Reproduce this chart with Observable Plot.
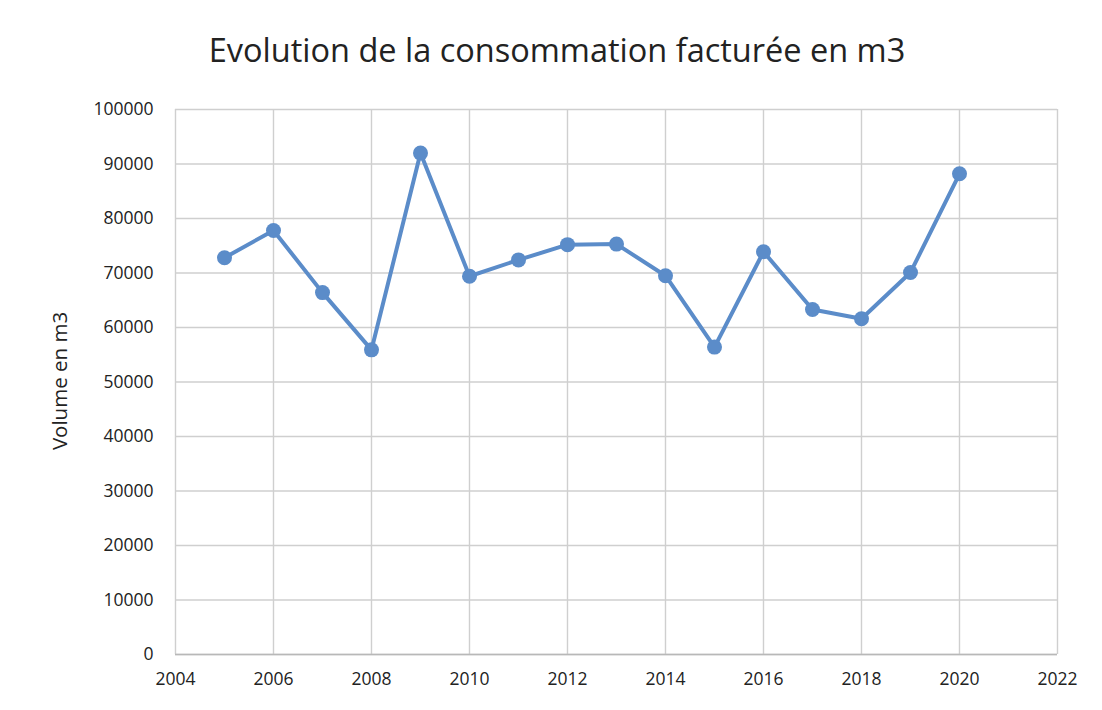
<!DOCTYPE html>
<html>
<head>
<meta charset="utf-8">
<script src="https://cdn.jsdelivr.net/npm/d3@7"></script>
<script src="https://cdn.jsdelivr.net/npm/@observablehq/plot@0.6"></script>
<style>
  body { margin: 0; background: #fff; font-family: "Open Sans", "Liberation Sans", sans-serif; }
  #wrap { width: 1102px; height: 710px; position: relative; overflow: hidden; }
  #title { height: 90px; line-height: 100px; text-align: center; font-size: 32.5px; color: #222; padding-left: 12px; }
</style>
</head>
<body>
<div id="wrap">
  <div id="title">Evolution de la consommation facturée en m3</div>
  <div id="chart"></div>
</div>
<script>
const years = [2005, 2006, 2007, 2008, 2009, 2010, 2011, 2012, 2013, 2014, 2015, 2016, 2017, 2018, 2019, 2020];
const volumes = [72800, 77800, 66400, 55900, 92000, 69400, 72400, 75200, 75300, 69500, 56400, 73900, 63300, 61600, 70100, 88200];
const xTicks = [2004, 2006, 2008, 2010, 2012, 2014, 2016, 2018, 2020, 2022];
const yTicks = [0, 10000, 20000, 30000, 40000, 50000, 60000, 70000, 80000, 90000, 100000];

const data = years.map((y, i) => ({year: y, volume: volumes[i]}));
const blue = "#5b8cc9";

const chart = Plot.plot({
  width: 1102,
  height: 620,
  marginTop: 19,
  marginBottom: 56,
  marginLeft: 175,
  marginRight: 45,
  style: {fontFamily: "'Open Sans', 'Liberation Sans', sans-serif", fontSize: "17.5px", color: "#222", background: "#fff"},
  x: {domain: [2004, 2022], ticks: xTicks, tickFormat: d => String(d), label: null},
  y: {domain: [0, 100000], ticks: yTicks, tickFormat: d => String(d), label: null},
  marks: [
    Plot.gridX(xTicks, {stroke: "#cfcfcf", strokeOpacity: 1, strokeWidth: 1.4}),
    Plot.gridY(yTicks, {stroke: "#cfcfcf", strokeOpacity: 1, strokeWidth: 1.4}),
    Plot.ruleY([0], {stroke: "#b8b8b8", strokeWidth: 1.6}),
    Plot.axisX(xTicks, {tickSize: 0, tickPadding: 18, tickFormat: d => String(d), label: null, fontSize: 17.5}),
    Plot.axisY(yTicks, {tickSize: 0, tickPadding: 22, tickFormat: d => String(d), label: null, fontSize: 17.5}),
    Plot.line(data, {x: "year", y: "volume", stroke: blue, strokeWidth: 4}),
    Plot.dot(data, {x: "year", y: "volume", fill: blue, r: 7.5, stroke: "none"})
  ]
});
document.getElementById("chart").appendChild(chart);

// y axis title
const svg = d3.select(chart);
svg.append("text")
  .attr("transform", "translate(67, 291) rotate(-90)")
  .attr("text-anchor", "middle")
  .attr("font-size", "20.5px")
  .attr("fill", "#222")
  .text("Volume en m3");
</script>
</body>
</html>
